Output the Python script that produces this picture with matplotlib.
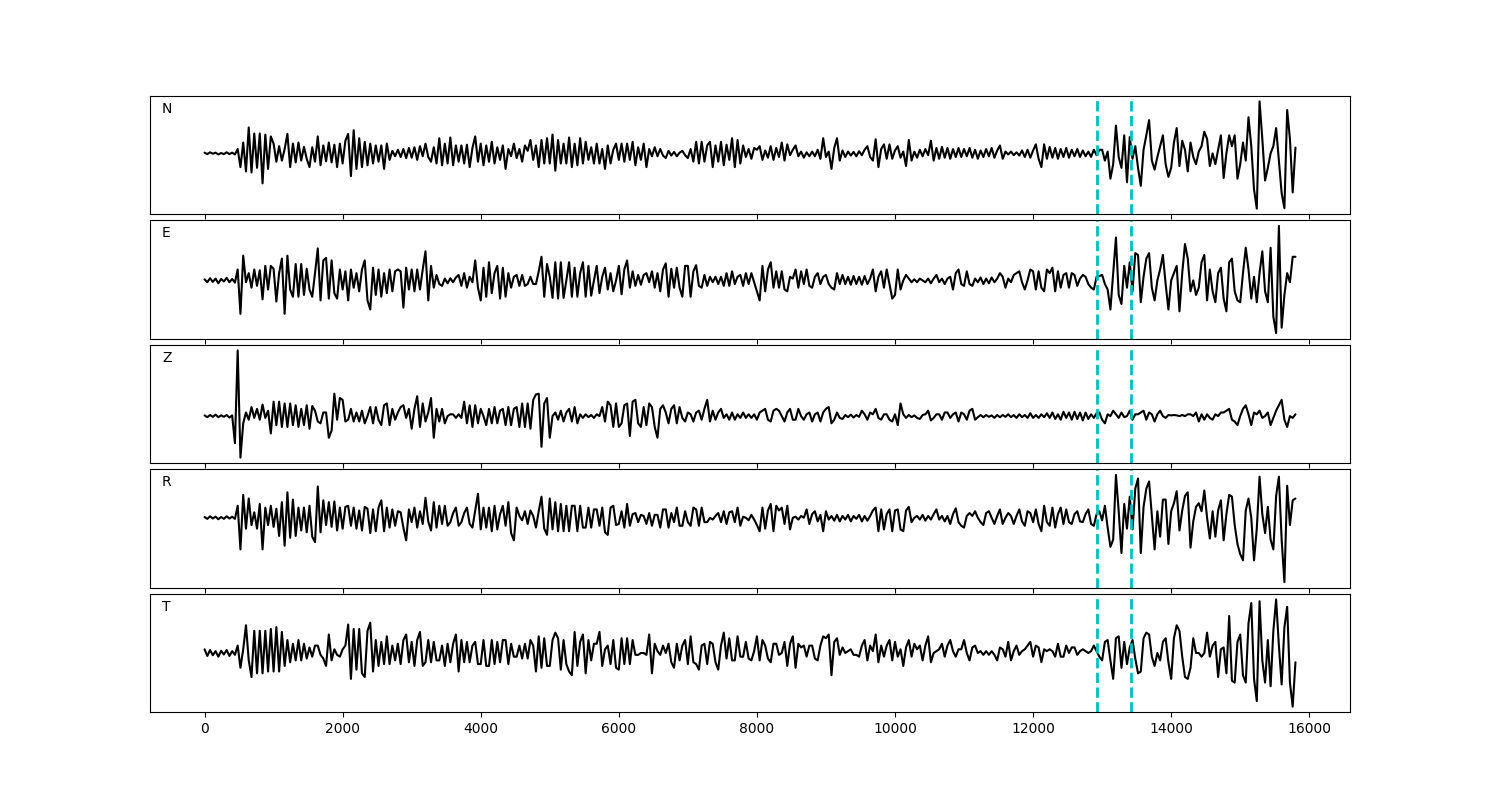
import numpy as np
import matplotlib
matplotlib.use("Agg")
import matplotlib.pyplot as plt

# sample spacing of the traces (x axis units)
dt = 40

# amplitudes, one sample every 40 units, 0 .. 15800
n_vals = [
    2, -2, 3, -1, 2, -3, 1, -2, 3, -2, 2, -3, 12, -38, 30, -50, 72, -53, 55, -40, 55, -83, 52, -43, 47,
    27, -23, 20, -20, 12, 54, -38, 27, -25, 30, -20, 18, -15, -38, 17, -23, 47, -33, 22, -22, 30, -25, 24, -38, 27,
    -28, 35, 54, -63, 64, -43, 42, -38, 32, -33, 27, -28, 22, -23, 22, -43, 27, -18, 7, -8, 10, -10, 12, -13, 15,
    -12, 17, -18, 20, -8, 27, -10, -23, 17, -28, 42, -33, 27, -28, 44, -33, 22, -23, 22, -28, 24, -38, 15, 47, -23,
    27, -33, 22, -23, 32, -28, 17, -18, 22, -43, 12, -8, 27, -13, 12, -23, 22, 7, 37, -18, 22, -38, 37, -28, 42,
    -28, 52, -48, 37, -28, 27, -28, 44, -38, 27, -33, 42, -28, 32, -18, 17, -28, 27, -28, 12, -43, 22, -28, 10, 27,
    -18, 27, -23, 27, -18, 32, -33, 17, -18, 27, -38, 12, -8, 17, -8, 12, -6, -13, 7, -6, 4, -8, 2, 7, -5,
    -13, 12, -23, 32, -28, 32, -23, 22, 32, -38, 22, -23, 32, -33, 24, -18, 42, -38, 37, -28, 22, -10, 12, -15, 15,
    10, 20, -18, 8, -12, 20, -18, 15, -10, 30, -20, 25, -5, 10, 22, -8, 5, -12, 3, -8, 5, -8, 10, -15, 42,
    -10, 5, -43, 15, 42, -20, 8, -10, 5, -6, 4, -8, 6, -5, 10, 20, -10, -20, 39, -38, 12, 25, -15, 25, -15,
    8, 20, -12, 5, -35, 37, -20, 5, -12, 10, -8, 12, -5, 35, -20, 15, -15, 18, -12, 15, -15, 12, -10, 15, -10,
    12, -8, 15, -12, 10, -15, 8, -10, 12, -8, 15, -12, 8, 22, -15, 5, -3, 5, -5, 3, -6, 8, -10, 10, -12,
    8, 25, -15, -38, 25, -15, 18, -12, 15, -15, 12, -10, 15, -12, 10, -8, 12, -10, 8, -8, 5, -10, 10, -5, 10,
    10, -20, 5, -70, -30, 77, -10, -40, 50, -80, 45, -15, 20, -40, -90, 10, 50, 92, -20, -45, -10, 20, 50, -30, -65,
    -40, 30, 70, -35, 35, 10, -50, 30, -10, -30, 5, 20, 60, 40, -35, 0, -30, 10, 50, -68, 0, 50, 20, 50, -70,
    -30, 30, -20, 100, 20, -100, -153, 144, 40, -75, -40, 0, 20, 70, -20, -110, -152, 120, 40, -108, 16,
]

e_vals = [
    3, -5, 6, -4, 5, -8, 4, -3, 7, -5, 4, -6, 30, -92, 68, -5, 20, -20, 30, -15, 28, -52, 40, -25, 40,
    32, -58, 20, 60, -92, 68, -25, -45, 45, -45, 45, -40, 32, -25, -45, 20, 88, -55, 55, 62, -50, 55, -35, -50, 30,
    -25, 25, -55, 30, -20, 20, -30, 30, 55, -55, -80, 35, -40, 30, -45, 20, -35, 30, -30, 25, 30, 25, -75, 35, -25,
    30, -30, 30, -25, 30, 80, -55, 40, -20, 15, -10, -15, 5, -8, 6, -5, 8, 15, -15, 20, -20, 10, -5, 55, -20,
    -55, 35, -45, 50, -35, 20, 40, -50, 35, -45, 20, -20, 10, 15, -15, 15, -15, -10, 10, -10, -10, 25, 65, -45, 45,
    10, -48, 50, -50, 50, -48, 0, 50, -45, 35, -45, 20, 50, -45, 40, -42, 0, 40, -35, 10, 35, -25, 20, -30, 0,
    40, -38, 30, 55, -20, 25, -15, 15, -12, 15, 20, -5, 25, -20, 20, -30, 30, 47, -45, 32, -20, 35, -20, -45, 40,
    40, -45, 25, 42, -15, -20, 15, -15, 10, -5, 10, -10, 10, -15, 20, -15, 25, -10, 10, 15, -15, 20, -10, 20, -5,
    -30, -55, 40, -30, 30, 50, -20, 25, -20, 25, -25, -30, 10, 5, 30, -20, 25, -10, 30, -15, -20, 10, 20, -10, 10,
    15, -10, -20, -25, 20, -10, 15, -10, 10, -12, 12, -10, 10, -12, 12, -10, 5, 30, -30, 10, 25, -20, 30, -10, -50,
    -40, 30, -25, 0, 15, 5, -5, 3, -5, 5, 0, -5, 5, -8, 5, 15, -5, 5, -10, 5, 10, -25, 20, 30, -10,
    -15, 25, -10, -15, 5, -5, 8, -10, 5, -8, 8, -5, 5, 20, 10, -20, 5, -5, 15, 20, 25, -5, -25, 0, 30,
    25, -25, 25, -20, -30, 30, 20, 35, -30, 25, -20, 15, 20, -20, 20, 15, -15, 5, 15, 10, -10, -20, -25, 10, 12,
    15, -10, -25, -80, 20, 118, -40, -65, 40, -20, 50, -30, 75, 70, -60, 10, 60, 75, -20, -55, 0, 30, 70, -10, -80,
    0, 20, 40, -85, 20, 100, 60, -30, 0, -40, -20, 50, 70, -55, 30, -30, -60, 20, 35, -50, -85, 50, 60, -30, -55,
    -60, 20, 90, 30, -50, 10, -60, 20, 80, -30, -60, 90, -100, -145, 150, -130, -40, 20, -5, 65, 65,
]

z_vals = [
    2, -3, 3, -2, 4, -3, 2, -2, 3, -4, 2, -75, 182, -115, -20, 10, -10, 25, -5, 20, -10, 32, -5, 15, -48,
    40, -25, 40, -30, 35, -30, 35, -25, 30, -30, 20, -25, 30, -35, 28, 15, -15, -20, 10, 10, -60, -40, 62, -10, 50,
    45, -15, -10, 20, -15, 10, -15, 15, -20, 0, 25, -20, 25, -10, -25, 30, 35, -25, 20, -10, 10, 25, 30, -5, 20,
    -35, 20, 55, -30, 35, -15, 10, 50, -60, 20, -15, 20, -20, 0, 5, 5, -5, 5, -5, 40, -20, 30, -30, 30, -20,
    20, 0, -25, 20, -20, 25, -20, 15, 20, -25, 25, -25, 20, 25, -30, 35, -30, 35, -35, 45, 60, 62, -85, 35, 50,
    -60, 0, 10, -10, 15, -15, 10, 20, -15, 25, -20, 5, -5, 5, -3, 3, -5, 5, 0, 25, -15, 40, 30, -30, 35,
    -30, -20, 30, 35, -55, 40, 45, -20, -30, 25, -25, 35, 25, -30, -60, 20, 30, 10, -20, 20, 30, -20, 25, -5, -15,
    10, 5, -15, 10, 15, -10, 20, 45, -15, 15, -10, 10, 20, -5, 5, -10, 10, -10, 5, -5, 10, -5, 5, -5, 5,
    -10, 10, 15, 20, -10, -15, 15, 20, 15, 0, -15, 10, 20, -10, -10, 20, 0, -10, 5, 10, -15, 5, 10, -15, 10,
    20, 25, -20, -10, 10, -5, -8, 3, -3, 4, -4, 3, -2, 15, 5, -10, 10, 5, 20, -5, -10, 5, 5, -10, -15,
    5, -25, 35, 5, -5, 3, -3, 2, -5, -8, 3, 5, 15, -12, -5, 5, 5, -10, 10, 10, -5, 5, 10, -15, 10,
    5, -10, 15, 20, -10, -3, 3, -3, 3, -2, 2, -5, 3, -3, 3, -2, 5, -3, 3, -5, 5, -3, 3, -5, 8,
    -5, 3, -5, 5, -3, 8, -5, 10, -8, 5, -10, 12, -5, 10, -10, 12, -8, 10, -12, 10, -8, 5, -5, 8, 10,
    -10, -20, 5, 0, 15, 5, -5, 10, -3, 0, 15, -10, 5, 5, 10, 15, -10, 10, 5, -15, 5, 15, 0, -5, 3,
    2, 3, 2, 0, 3, 0, 5, 5, 0, 10, -15, 5, -10, 5, -5, -10, 5, 0, 10, 10, 15, 20, -10, -15, -25,
    0, 20, 30, 5, -25, 10, 5, 15, -5, 0, 10, -25, -5, 15, 30, 45, -10, -30, 0, -5, 5,
]

r_vals = [
    2, -3, 4, -2, 3, -4, 2, -3, 4, -2, 3, -3, 33, -87, 63, -30, 53, -20, 15, -30, 38, -87, 28, -20, 33,
    -25, 25, -50, 43, -77, 70, -55, 50, -50, 28, -35, 28, -40, 33, -52, -67, 86, -40, 48, -20, 43, -25, 45, -35, 28,
    -30, 30, 33, -22, 28, -30, 20, -35, 30, 25, -42, 23, -37, 28, 48, -37, 28, -27, 23, -22, 18, 15, -27, -62, 23,
    -12, 28, -27, 18, -17, 55, -10, -35, 43, -27, 33, -17, 33, -22, -12, 13, 28, -22, -12, 13, 28, -17, -27, 20, 66,
    -32, 28, -27, 28, -37, 33, -32, 10, 33, -22, 43, -42, -62, 28, 5, -7, 18, -17, 20, 5, -27, 18, 58, -30, -47,
    53, -32, 43, -37, 38, -37, 33, -37, 33, 33, -37, 33, -27, -27, 28, -27, 23, 23, -22, 28, -40, -47, 28, 33, -20,
    -17, 18, -27, 38, -22, 10, 13, -12, 8, 5, -17, 13, -22, 8, 8, -27, 23, 23, -27, 13, -12, 28, -22, -22, 18,
    -12, -22, 28, 23, -22, 28, -12, -12, 0, -5, 5, 13, -12, 18, -17, 15, 18, -12, 28, -22, 3, 0, -7, 8, -5,
    -20, -37, 28, -30, 20, 38, -37, 33, 20, 28, -17, 33, -32, 0, 3, -5, 5, 0, 23, -17, 10, 18, -10, 8, -37,
    18, -5, 5, -8, 8, -10, 5, -5, 8, -10, 5, -3, 8, -10, 5, -8, 5, 20, 28, -37, 23, -32, 10, 23, -37,
    20, 23, -32, -37, 20, 30, -12, 0, 5, -5, 8, -8, 5, -5, 10, 23, -5, 5, -10, 5, -17, 10, 26, -12, -22,
    -27, 5, 13, 5, 18, 0, -12, -20, 13, 18, 0, -17, 5, 23, -17, 0, 13, 5, -17, 5, 23, -10, -22, 18, 13,
    -12, 23, -17, -37, 33, -12, -22, 28, -27, 10, 28, -17, 23, -12, -17, 10, 18, -10, -12, 10, 23, -17, -22, 10, 18,
    -7, 33, -27, -80, -60, 118, 18, -97, 38, -30, 58, -32, 80, 108, -97, 30, 80, 100, 8, -87, 18, -52, 50, 50, -72,
    18, 40, 73, -35, 20, 60, 70, -82, -10, 30, 40, 18, 75, 0, -57, 18, -52, 20, 48, -62, 10, 63, 58, -20, -72,
    -100, -117, 20, 53, 0, -117, -30, 113, 10, -42, 30, -60, -87, 60, 113, -60, -177, 88, -20, 48, 53,
]

t_vals = [
    10, -8, 8, -6, 5, -10, 6, -4, 8, -8, 5, -5, 20, -40, 10, 75, -20, -65, 60, -55, 60, -55, 60, -50, 65,
    -50, 70, -50, 57, -35, 35, -25, 25, -20, 35, -20, 25, -15, 15, -10, 20, 20, -5, -15, -35, 50, -20, 10, -5, -10,
    10, 20, 77, -70, 65, -45, 65, -55, -65, 60, 82, -50, 35, -35, 30, -30, 45, -30, 20, -20, 25, -30, 35, 50, -25,
    30, -35, 35, 57, -35, -25, 35, -25, 30, -20, -20, 20, -35, 25, -25, 25, 50, -50, 35, -25, 30, -25, 20, 30, -30,
    -30, 35, -35, -35, 35, -30, 30, -25, 35, 35, -30, 25, -10, -10, 20, -15, 25, -15, 35, 20, -50, 45, -40, 40, -35,
    -35, 35, 55, 40, -45, 35, -30, -50, -60, 57, -35, 30, 50, -55, 35, -20, 25, 25, 57, -35, 10, 20, -30, 35, -40,
    -45, 40, -30, 40, -30, 35, -5, -5, 0, 0, -5, 50, -55, 25, 5, -5, 20, 0, 25, -25, -40, 25, -20, 20, 35,
    -30, 45, -25, -30, -45, 20, 25, -30, 30, 25, -25, -45, 20, 55, -15, 40, -20, -20, 45, -10, -10, 30, -15, -20, 5,
    45, -20, 35, 20, -15, -25, 25, 25, -5, 0, 30, -35, 25, 45, -40, 25, 15, 20, -10, 20, 20, -15, -20, 20, 45,
    40, 50, -60, 30, 40, -5, 15, 0, 5, 10, -5, -5, -10, 20, 35, -20, 20, 5, 50, -25, 20, -10, 20, 35, -20,
    30, -10, 10, -35, 15, 35, -10, 25, 10, 20, -20, 20, 45, -25, 0, 5, 10, 25, -10, 20, 35, 5, -10, 10, 10,
    35, 0, -20, 15, 20, 0, 5, -5, 5, -5, 5, -5, -20, 15, 10, -10, 30, -20, 5, 20, -5, 5, 10, 20, 30,
    -10, 20, 15, -25, 10, 5, 10, 5, -10, 25, -10, -10, 20, 0, 15, 15, -5, 5, 10, 5, 0, 5, 20, 5, -10,
    -20, 30, 35, -20, -70, 40, 45, -40, 30, -30, 15, 35, -15, -55, -50, 40, 55, 50, -10, -35, 0, -20, 30, 40, -25,
    -70, 40, 75, 60, -10, -65, -70, -40, 40, 0, 0, -10, 0, 55, -10, 20, 30, -65, 10, 15, -55, 100, -75, -80, 30,
    50, -60, -80, 80, 135, -70, -130, 140, -20, -80, 35, -90, 60, 145, 20, -85, 70, 125, -80, -145, -25,
]

channels = ["N", "E", "Z", "R", "T"]
picks = [12931, 13423]

traces = [n_vals, e_vals, z_vals, r_vals, t_vals]

fig, axes = plt.subplots(5, 1, figsize=(15, 8), dpi=100, sharex=True)
fig.subplots_adjust(left=0.1, right=0.9, top=0.88, bottom=0.11, hspace=0.055)

for ax, name, vals in zip(axes, channels, traces):
    y = np.asarray(vals, dtype=float)
    t = np.arange(len(y)) * dt
    ax.plot(t, y, color="black", lw=1.5, solid_joinstyle="round", solid_capstyle="round")
    for p in picks:
        ax.axvline(p, color="c", ls="--", lw=2)
    ax.set_yticks([])
    ax.text(0.01, 0.95, name, transform=ax.transAxes, ha="left", va="top", fontsize=10)

fig.savefig("out.png", dpi=100)
